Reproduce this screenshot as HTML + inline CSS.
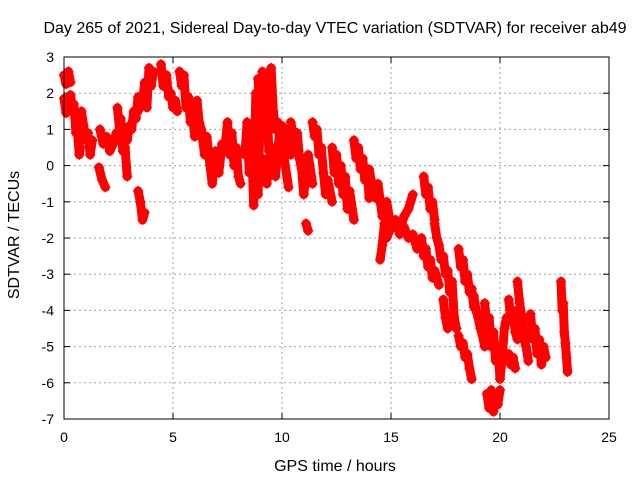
<!DOCTYPE html>
<html><head><meta charset="utf-8"><style>
body{margin:0;background:#fff;}
svg{display:block;font-family:"Liberation Sans",sans-serif;}
</style></head><body>
<svg id="chart" width="640" height="480">
<text x="335" y="33" font-size="16" text-anchor="middle">Day 265 of 2021, Sidereal Day-to-day VTEC variation (SDTVAR) for receiver ab49</text>
<text x="335" y="471" font-size="16" text-anchor="middle">GPS time / hours</text>
<text transform="translate(19,235) rotate(-90)" font-size="16" text-anchor="middle">SDTVAR / TECUs</text>
<g id="grid"></g>
<g id="ticks"></g>
<g id="marks"></g>
<rect x="64" y="57" width="545" height="362" fill="none" stroke="#000" stroke-width="1"/>
</svg>
<script>
const xTicks=[0,5,10,15,20,25];
const yTicks=[3,2,1,0,-1,-2,-3,-4,-5,-6,-7];
// null separates receiver/satellite passes (tracks)
const hours=[
0.0,0.1,0.2,0.3,null,
0.0,0.1,0.2,null,
0.3,0.4,0.45,0.55,0.6,0.7,0.75,null,
0.8,0.9,1.0,1.1,1.2,1.3,null,
1.65,1.8,1.95,2.1,2.25,2.4,2.5,null,
1.6,1.75,1.9,null,
2.45,2.55,2.6,2.7,2.8,2.9,null,
2.9,3.0,3.1,3.2,3.3,3.4,null,
3.4,3.5,3.6,3.7,3.8,3.9,4.0,4.1,null,
3.4,3.5,3.6,3.7,null,
4.45,4.55,4.7,4.8,4.9,5.0,5.1,5.2,null,
5.3,5.4,5.5,5.6,5.7,5.8,5.9,6.0,6.1,null,
6.1,6.2,6.3,6.45,6.55,null,
6.55,6.7,6.8,6.95,7.1,7.25,null,
7.4,7.5,7.6,7.7,7.8,7.9,8.0,8.1,null,
8.3,8.4,8.5,8.6,8.7,8.8,8.9,9.0,null,
8.9,9.0,9.1,9.2,9.3,9.4,null,
9.4,9.5,9.6,9.7,9.8,9.9,null,
9.1,9.3,9.5,9.7,9.9,10.1,10.3,null,
10.0,10.2,10.4,null,
10.4,10.5,10.6,10.7,10.8,10.9,11.0,11.2,11.4,null,
11.1,11.2,null,
11.4,11.5,11.6,11.7,11.8,11.9,12.0,12.1,12.3,null,
12.3,12.4,12.5,12.6,12.7,12.8,12.9,13.0,13.1,13.3,null,
13.3,13.4,13.5,13.6,13.7,13.8,13.9,14.0,14.1,14.3,null,
14.0,14.2,14.4,14.6,14.8,15.0,15.2,15.4,15.6,15.8,16.0,16.2,null,
14.5,14.6,14.7,14.8,15.0,15.2,15.4,15.6,15.8,16.0,null,
16.5,16.6,16.7,16.8,16.9,17.0,null,
16.4,16.5,16.6,16.7,16.8,16.9,17.0,17.2,null,
17.0,17.1,17.2,17.3,17.4,17.5,17.6,17.7,17.8,17.9,18.0,null,
17.4,17.5,17.6,null,
18.1,18.2,18.3,18.4,18.5,18.6,18.7,18.8,null,
18.1,18.2,18.3,18.4,18.5,18.6,18.7,null,
18.8,18.9,19.0,19.1,19.2,19.3,null,
19.3,19.4,19.5,19.6,19.7,19.8,19.9,20.0,20.1,20.2,20.3,null,
19.4,19.5,19.6,19.7,19.8,19.9,20.0,null,
20.4,20.5,20.6,20.7,20.8,null,
20.4,20.5,20.6,20.7,null,
20.8,20.9,21.0,21.1,21.2,21.3,null,
21.4,21.5,21.6,21.7,21.8,21.9,22.0,22.1,null,
22.8,22.85,22.9,22.95,23.0,23.05,23.1];
const sdtvar=[
2.5,2.25,2.6,2.3,null,
1.85,1.45,1.7,null,
1.95,1.5,1.7,0.9,1.1,0.3,0.5,null,
1.5,1.1,0.7,0.9,0.3,0.7,null,
1.0,0.6,0.8,0.4,0.6,0.9,0.7,null,
-0.05,-0.4,-0.6,null,
1.6,1.0,1.3,0.4,0.5,-0.3,null,
0.7,1.1,1.0,1.5,1.3,1.9,null,
1.5,1.9,1.7,2.3,1.6,2.7,2.2,2.6,null,
-0.7,-1.0,-1.5,-1.3,null,
2.8,2.2,2.5,1.9,2.0,1.6,1.8,1.5,null,
2.6,2.2,2.5,1.6,1.9,1.2,1.4,0.8,1.0,null,
1.8,1.2,1.0,0.3,0.6,null,
0.8,0.0,-0.5,0.4,-0.2,0.6,null,
0.6,1.2,0.3,0.9,0.0,0.5,-0.3,-0.5,null,
0.3,1.2,-0.2,0.8,-1.1,2.0,-0.8,1.5,null,
2.4,1.5,2.6,1.0,1.8,0.4,null,
2.0,2.7,1.5,1.0,1.2,0.8,null,
0.2,-0.5,0.5,-0.3,1.0,0.2,-0.6,null,
1.1,0.8,0.3,null,
1.2,0.9,0.5,0.9,0.2,-0.1,-0.8,0.3,-0.5,null,
-1.6,-1.8,null,
1.2,0.8,1.0,0.3,0.5,-0.2,-0.8,-0.4,-1.0,null,
0.5,-0.2,0.3,-0.5,0.0,-0.8,-0.3,-1.2,-0.7,-1.5,null,
0.7,0.2,0.5,-0.1,0.2,-0.4,-0.1,-0.9,-0.5,-0.9,null,
-0.1,-0.8,-0.5,-1.4,-1.0,-1.7,-1.5,-1.9,-1.7,-2.0,-1.9,-2.3,null,
-2.6,-2.2,-1.6,-2.0,-1.7,-1.5,-1.8,-1.4,-1.2,-0.8,null,
-0.3,-0.8,-0.6,-1.2,-1.0,-1.5,null,
-2.0,-2.5,-2.3,-2.8,-2.6,-3.1,-2.9,-3.3,null,
-1.6,-2.0,-2.2,-2.6,-2.5,-3.0,-2.9,-3.5,-3.2,-4.2,-4.5,null,
-3.7,-4.2,-4.5,null,
-2.3,-2.8,-2.6,-3.2,-3.0,-3.5,-3.4,-3.9,null,
-4.7,-5.0,-4.9,-5.3,-5.2,-5.6,-5.9,null,
-3.6,-4.0,-4.2,-4.5,-4.7,-5.0,null,
-3.8,-4.5,-4.2,-5.0,-4.6,-5.4,-5.0,-5.9,-5.3,-4.5,-4.2,null,
-6.3,-6.7,-6.2,-6.8,-6.4,-6.6,-6.2,null,
-3.7,-4.3,-4.0,-4.6,-4.8,null,
-5.2,-5.5,-5.3,-5.6,null,
-3.2,-3.8,-4.2,-4.8,-5.0,-5.4,null,
-4.1,-4.8,-4.5,-5.2,-4.8,-5.5,-5.0,-5.3,null,
-3.2,-4.0,-3.8,-4.6,-4.9,-5.3,-5.7];
const NS='http://www.w3.org/2000/svg';
const X0=64,X1=609,Y0=57,Y1=419;
function xs(h){return X0+(h-0)/(25-0)*(X1-X0);}
function ys(v){return Y1-(v-(-7))/(3-(-7))*(Y1-Y0);}
const grid=document.getElementById('grid'),ticks=document.getElementById('ticks'),marks=document.getElementById('marks');
function mk(tag,attrs,parent){const e=document.createElementNS(NS,tag);for(const k in attrs)e.setAttribute(k,attrs[k]);parent.appendChild(e);return e;}
xTicks.forEach(t=>{const x=xs(t);
 if(t>0&&t<25){const g=mk('line',{x1:x,x2:x,y1:Y0,y2:Y1,stroke:'#a0a0a0','stroke-dasharray':'2,3'},grid);}
 const l=mk('line',{x1:x,x2:x,y1:Y1,y2:Y1-6,stroke:'#000'},ticks);
 const l2=mk('line',{x1:x,x2:x,y1:Y0,y2:Y0+6,stroke:'#000'},ticks);
 const tx=mk('text',{x:x,y:Y1+23,'font-size':14,'text-anchor':'middle'},ticks);tx.textContent=t;});
yTicks.forEach(t=>{const y=ys(t);
 if(t<3&&t>-7){const g=mk('line',{x1:X0,x2:X1,y1:y,y2:y,stroke:'#a0a0a0','stroke-dasharray':'2,3'},grid);}
 const l=mk('line',{x1:X0,x2:X0+6,y1:y,y2:y,stroke:'#000'},ticks);
 const l2=mk('line',{x1:X1,x2:X1-6,y1:y,y2:y,stroke:'#000'},ticks);
 const tx=mk('text',{x:X0-10,y:y+5,'font-size':14,'text-anchor':'end'},ticks);tx.textContent=t;});
let pts=[],n=0;
function flush(){if(pts.length>1){const p=mk('polyline',{points:pts.join(' '),fill:'none',stroke:'#ff0000','stroke-width':9,'stroke-linejoin':'round','stroke-linecap':'round'},marks);
 
 n++;}pts=[];}
for(let i=0;i<hours.length;i++){if(hours[i]===null){flush();continue;}pts.push(xs(hours[i])+','+ys(sdtvar[i]));}
flush();
for(let i=0;i<hours.length;i++){if(hours[i]===null)continue;const x=xs(hours[i]),y=ys(sdtvar[i]);
 const p=mk('path',{d:`M${x-5},${y}H${x+5}M${x},${y-5}V${y+5}`,stroke:'#ff0000','stroke-width':1.5},marks);
 
 }
</script>
</body></html>
